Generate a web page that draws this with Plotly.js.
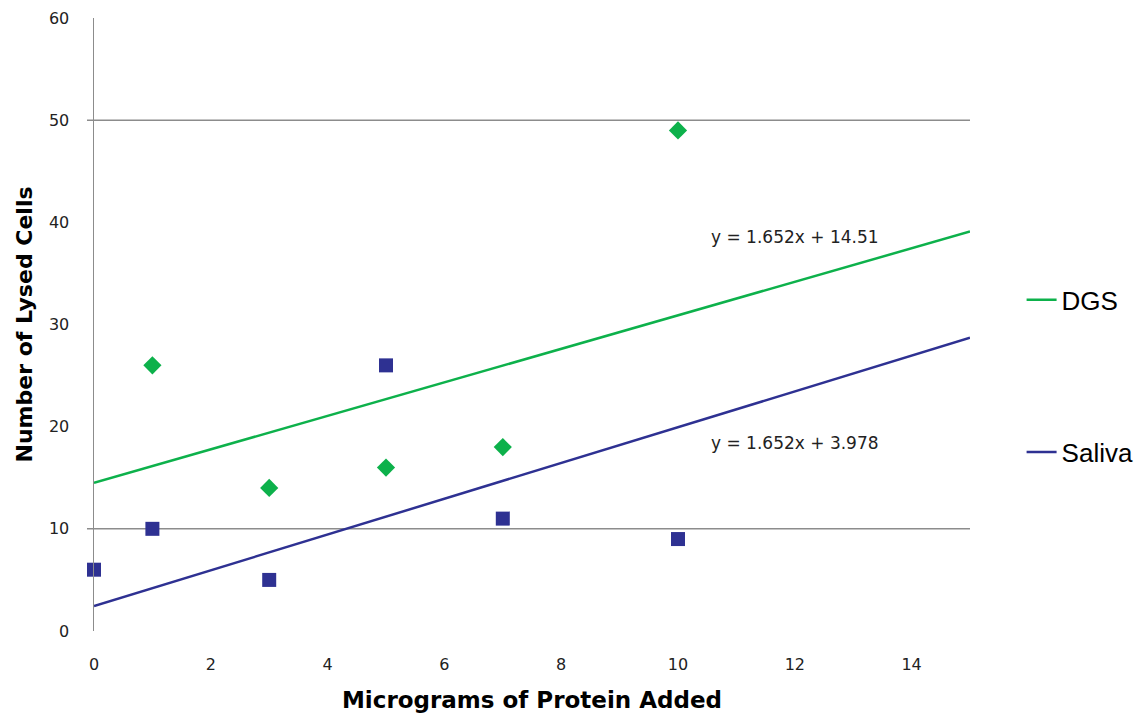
<!DOCTYPE html>
<html><head><meta charset="utf-8">
<script src="https://cdn.plot.ly/plotly-3.0.1.min.js"></script>
<style>html,body{margin:0;padding:0;background:#fff}#c{width:1144px;height:721px}</style>
</head><body><div id="c"></div>
<script>
const dgsX = [1, 3, 5, 7, 10];
const dgsY = [26, 14, 16, 18, 49];
const salX = [0, 1, 3, 5, 7, 10];
const salY = [6, 10, 5, 26, 11, 9];
const trendX = [0, 15];
const dgsTrendY = [14.5, 39.1];
const salTrendY = [2.44, 28.7];
const dgsEq = "y = 1.652x + 14.51";
const salEq = "y = 1.652x + 3.978";
const eqX = [12.0, 12.0];
const eqY = [38.6, 18.4];
const gridYs = [10, 50];
const xTicks = [0, 2, 4, 6, 8, 10, 12, 14];
const yTicks = [0, 10, 20, 30, 40, 50, 60];

const green = "#0db14b";
const blue = "#2e3192";

const traces = [
  {x: trendX, y: dgsTrendY, mode: "lines", name: "DGS", line: {color: green, width: 2.5}, legend: "legend", hoverinfo: "skip"},
  {x: trendX, y: salTrendY, mode: "lines", name: "Saliva", line: {color: blue, width: 2.5}, legend: "legend2", hoverinfo: "skip"},
  {x: dgsX, y: dgsY, mode: "markers", showlegend: false, cliponaxis: false, marker: {symbol: "diamond", size: 14, color: green}},
  {x: salX, y: salY, mode: "markers", showlegend: false, cliponaxis: false, marker: {symbol: "square", size: 14, color: blue}}
];

const shapes = gridYs.map(v => ({type: "line", xref: "paper", yref: "y", x0: -0.008, x1: 1, y0: v, y1: v, line: {color: "#8c8c8c", width: 1.5}, layer: "below"}));

const tickFont = {family: "DejaVu Sans, Verdana, sans-serif", size: 16, color: "#222"};
const titleFont = {family: "DejaVu Sans, Verdana, sans-serif", size: 23, color: "#000", weight: "bold"};
const eqFont = {family: "DejaVu Sans, Verdana, sans-serif", size: 17, color: "#222"};
const legFont = {family: "Liberation Sans, Arial, sans-serif", size: 26, color: "#000"};

const layout = {
  width: 1144, height: 721,
  margin: {l: 94, r: 174, t: 18, b: 90},
  paper_bgcolor: "#fff", plot_bgcolor: "#fff",
  showlegend: true,
  xaxis: {
    range: [0, 15], tickvals: xTicks, ticktext: xTicks.map(String),
    showgrid: false, zeroline: false, showline: false, ticks: "",
    tickfont: tickFont, ticklabelstandoff: 22,
    title: {text: "Micrograms of Protein Added", font: titleFont, standoff: 18}
  },
  yaxis: {
    range: [0, 60], tickvals: yTicks, ticktext: yTicks.map(String),
    showgrid: false, zeroline: false, showline: true, linecolor: "#8c8c8c", linewidth: 1.5, ticks: "",
    tickfont: tickFont, ticklabelstandoff: 20,
    title: {text: "Number of Lysed Cells", font: Object.assign({}, titleFont, {size: 22}), standoff: 10}
  },
  shapes: shapes,
  annotations: [
    {x: eqX[0], y: eqY[0], xref: "x", yref: "y", text: dgsEq, showarrow: false, font: eqFont},
    {x: eqX[1], y: eqY[1], xref: "x", yref: "y", text: salEq, showarrow: false, font: eqFont}
  ],
  legend: {xref: "container", yref: "container", x: 0.893, y: 0.584, xanchor: "left", yanchor: "middle", itemwidth: 30, font: legFont, bgcolor: "rgba(0,0,0,0)"},
  legend2: {xref: "container", yref: "container", x: 0.893, y: 0.373, xanchor: "left", yanchor: "middle", itemwidth: 30, font: legFont, bgcolor: "rgba(0,0,0,0)"}
};

Plotly.newPlot("c", traces, layout, {displayModeBar: false, staticPlot: true});
</script>
</body></html>
